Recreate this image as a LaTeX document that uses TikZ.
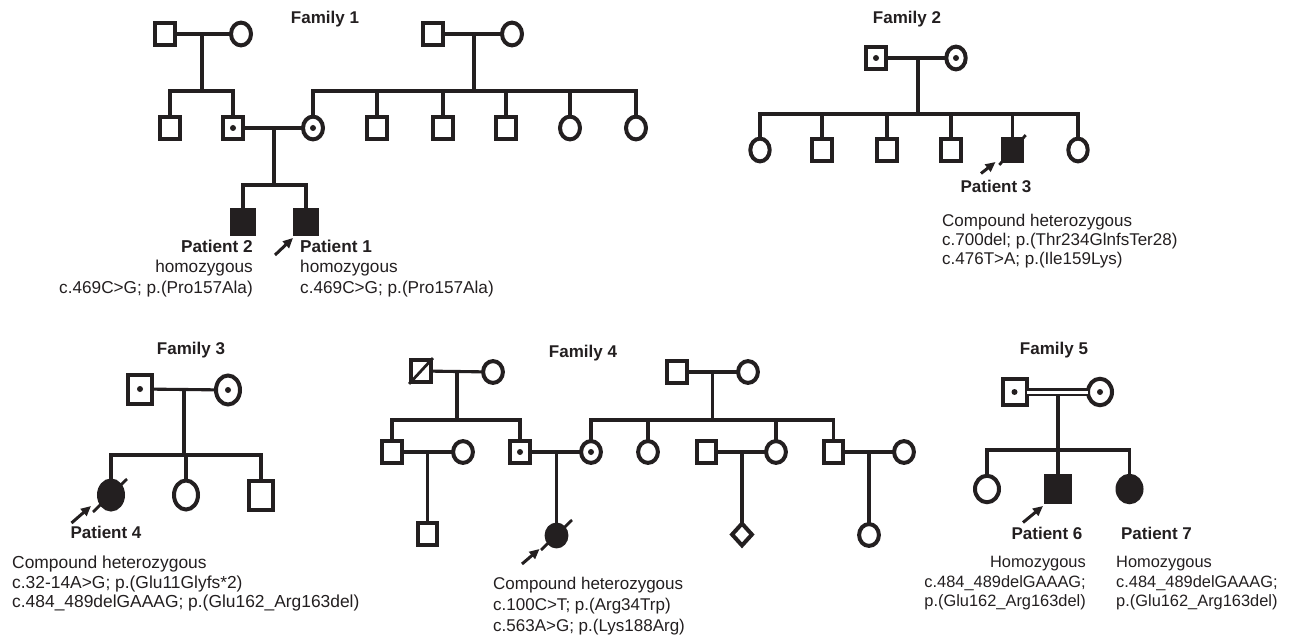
\documentclass[tikz,border=0pt]{standalone}
\usepackage{fontspec}
\setmainfont{Liberation Sans}
\usetikzlibrary{shapes.geometric,arrows.meta,calc}
\definecolor{ink}{HTML}{231F20}
\begin{document}
\begin{tikzpicture}[x=1pt,y=-1pt]
\tikzset{
  ped/.style={draw=ink, line width=4pt, inner sep=0pt, outer sep=0pt, fill=white},
  male/.style={ped, rectangle},
  female/.style={ped, ellipse},
  nonsex/.style={ped, diamond, aspect=1},
  aff/.style={fill=ink},
  carrier/.style={path picture={\fill[ink] (path picture bounding box.center) circle (3pt);}},
  fa/.style={minimum width=20pt, minimum height=22.8pt},
  fb/.style={minimum width=21.4pt, minimum height=24.4pt},
  fc/.style={minimum width=19.4pt, minimum height=22.8pt},
  fd/.style={minimum width=24pt, minimum height=29pt},
  fe/.style={minimum width=19.8pt, minimum height=21.8pt},
  ff/.style={minimum width=24pt, minimum height=26.5pt},
  link/.style={draw=ink, line width=3.1pt},
  pointer/.style={draw=ink, line width=3pt, -{Triangle[length=10pt,width=9pt]}},
  slash/.style={draw=ink, line width=2.8pt},
  ttl/.style={text=ink, inner sep=0pt, anchor=base, font=\bfseries\fontsize{17}{20}\selectfont},
  pat/.style={text=ink, inner sep=0pt, anchor=base, font=\bfseries\fontsize{17}{20}\selectfont},
  txt/.style={text=ink, inner sep=0pt}
}
\fill[white] (0,0) rectangle (1298,636);
\useasboundingbox (0,0) rectangle (1298,636);

% ================= Family 1 =================
\node[ttl] (t1) at (325,24) {Family 1};
\node[male,fa] (a1) at (164.5,34) {};
\node[female,fa] (a2) at (241,34) {};
\coordinate (a12) at (202,34);
\coordinate (s1) at (202,91);
\draw[link] (a1) -- (a2);
\draw[link] (a12) -- (s1);

\node[male,fa] (c1) at (433,34) {};
\node[female,fa] (c2) at (512,34) {};
\coordinate (c12) at (474,34);
\coordinate (s2) at (474,91);
\draw[link] (c1) -- (c2);
\draw[link] (c12) -- (s2);

\node[male,fa] (b1) at (170,128) {};
\node[male,fa,carrier] (b2) at (233,128) {};
\node[female,fa,carrier] (b3) at (313,128) {};
\node[male,fa] (b4) at (377,128) {};
\node[male,fa] (b5) at (443,128) {};
\node[male,fa] (b6) at (506,128) {};
\node[female,fa] (b7) at (570,128) {};
\node[female,fa] (b8) at (636,128) {};
\draw[link] (b1) |- (s1) -| (b2);
\draw[link] (b3) |- (s2) -| (b8);
\draw[link] (b4) -- (b4 |- s2);
\draw[link] (b5) -- (b5 |- s2);
\draw[link] (b6) -- (b6 |- s2);
\draw[link] (b7) -- (b7 |- s2);
\draw[link] (b2) -- (b3);
\coordinate (m1) at (274,128);
\coordinate (s3) at (274,185);
\draw[link] (m1) -- (s3);
\node[male,fb,aff] (p2) at (243,222) {};
\node[male,fb,aff] (p1) at (306,222) {};
\draw[link] (p2) |- (s3) -| (p1);
\coordinate (ar1t) at (275,255);
\coordinate (ar1h) at (293,238);
\draw[pointer] (ar1t) -- (ar1h);
\node[txt, anchor=north east, align=right, font=\fontsize{17.2}{20.5}\selectfont] (d2) at (253,239.5)
  {\textbf{Patient 2}\\homozygous\\c.469C>G; p.(Pro157Ala)};
\node[txt, anchor=north west, align=left, font=\fontsize{17.2}{20.5}\selectfont] (d1) at (300,239.5)
  {\textbf{Patient 1}\\homozygous\\c.469C>G; p.(Pro157Ala)};

% ================= Family 2 =================
\node[ttl] (t2) at (907,24) {Family 2};
\node[male,fc,carrier] (e1) at (876,58) {};
\node[female,fc,carrier] (e2) at (956,58) {};
\draw[link] (e1) -- (e2);
\coordinate (m2) at (918,58);
\coordinate (s4) at (918,114);
\draw[link] (m2) -- (s4);
\node[female,fc] (g1) at (760,150) {};
\node[male,fc] (g2) at (822,150) {};
\node[male,fc] (g3) at (887,150) {};
\node[male,fc] (g4) at (951,150) {};
\node[male,fc,aff] (p3) at (1012.5,150) {};
\node[female,fc] (g6) at (1078,150) {};
\draw[link] (g1) |- (s4) -| (g6);
\draw[link] (g2) -- (g2 |- s4);
\draw[link] (g3) -- (g3 |- s4);
\draw[link] (g4) -- (g4 |- s4);
\draw[link] (p3) -- (p3 |- s4);
\draw[slash] ([shift={(-3.5pt,-3.5pt)}]p3.south west) -- ([shift={(3.5pt,3.5pt)}]p3.north east);
\coordinate (ar3t) at (981,173.5);
\coordinate (ar3h) at (995.5,162);
\draw[pointer] (ar3t) -- (ar3h);
\node[pat] (n3) at (996,193) {Patient 3};
\node[txt, anchor=north west, align=left, font=\fontsize{17}{19}\selectfont] (d3) at (942,213.6)
  {Compound heterozygous\\c.700del; p.(Thr234GlnfsTer28)\\c.476T>A; p.(Ile159Lys)};

% ================= Family 3 =================
\node[ttl] (t3) at (191,354) {Family 3};
\node[male,fd,carrier] (h1) at (140,389) {};
\node[female,fd,carrier] (h2) at (228,390) {};
\draw[link] (h1) -- (h2);
\coordinate (m3) at (184,389);
\coordinate (s5) at (184,455);
\draw[link] (m3) -- (s5);
\node[female,fd,aff] (p4) at (111,495) {};
\node[female,fd] (j2) at (186,495) {};
\node[male,fd] (j3) at (261,495) {};
\draw[link] (p4) |- (s5) -| (j3);
\draw[link] (j2) -- (j2 |- s5);
\draw[slash] ($(p4.center)+(-18pt,-17pt)$) -- ($(p4.center)+(16pt,16pt)$);
\coordinate (ar4t) at (71.5,523);
\coordinate (ar4h) at (91,506);
\draw[pointer] (ar4t) -- (ar4h);
\node[pat] (n4) at (106,538.5) {Patient 4};
\node[txt, anchor=north west, align=left, font=\fontsize{17.4}{19.5}\selectfont] (d4) at (12,555.7)
  {Compound heterozygous\\c.32-14A>G; p.(Glu11Glyfs*2)\\c.484\_489delGAAAG; p.(Glu162\_Arg163del)};

% ================= Family 4 =================
\node[ttl] (t4) at (583,357) {Family 4};
\node[male,fe] (k1) at (421,371) {};
\node[female,fe] (k2) at (493,372) {};
\draw[link] (k1) -- (k2);
\draw[slash] ([shift={(-2pt,-2pt)}]k1.south west) -- ([shift={(2pt,2pt)}]k1.north east);
\coordinate (m4) at (457,372);
\coordinate (s6) at (457,420);
\draw[link] (m4) -- (s6);
\node[male,fe] (l1) at (392,452) {};
\node[male,fe,carrier] (l2) at (520,452) {};
\draw[link] (l1) |- (s6) -| (l2);
\node[female,fe] (l1w) at (463,452) {};
\draw[link] (l1) -- (l1w);
\coordinate (m5) at (427.5,452);
\node[male,fe] (o1) at (427.5,534) {};
\draw[link] (m5) -- (o1);

\node[male,fe] (k3) at (677,372) {};
\node[female,fe] (k4) at (748,372) {};
\draw[link] (k3) -- (k4);
\coordinate (m7) at (712.5,372);
\coordinate (s7) at (712.5,420);
\draw[link] (m7) -- (s7);
\node[female,fe,carrier] (l3) at (591,452) {};
\node[female,fe] (l4) at (648,452) {};
\node[female,fe] (l5) at (776,452) {};
\node[male,fe] (l6) at (833.5,452) {};
\draw[link] (l3) |- (s7) -| (l6);
\draw[link] (l4) -- (l4 |- s7);
\draw[link] (l5) -- (l5 |- s7);
\draw[link] (l2) -- (l3);
\coordinate (m6) at (556.5,452);
\node[female,fe,aff] (p5) at (556.5,535.5) {};
\draw[link] (m6) -- (p5);
\draw[slash] ($(p5.center)+(-15.5pt,-14.5pt)$) -- ($(p5.center)+(15.5pt,15.5pt)$);
\node[male,fe] (l5h) at (706.5,452) {};
\draw[link] (l5h) -- (l5);
\coordinate (m8) at (742,452);
\node[nonsex,minimum width=19.8pt,minimum height=21.8pt] (o2) at (742,534.5) {};
\draw[link] (m8) -- (o2);
\node[female,fe] (l6w) at (904,452) {};
\draw[link] (l6) -- (l6w);
\coordinate (m9) at (869,452);
\node[female,fe] (o3) at (869,535) {};
\draw[link] (m9) -- (o3);
\coordinate (ar5t) at (522,564);
\coordinate (ar5h) at (539.5,549);
\draw[pointer] (ar5t) -- (ar5h);
\node[txt, anchor=north west, align=left, font=\fontsize{17}{21}\selectfont] (d5) at (493,577)
  {Compound heterozygous\\c.100C>T; p.(Arg34Trp)\\c.563A>G; p.(Lys188Arg)};

% ================= Family 5 =================
\node[ttl] (t5) at (1054,354) {Family 5};
\node[male,ff,carrier] (q1) at (1014.5,392) {};
\node[female,ff,carrier] (q2) at (1100,392) {};
\draw[draw=ink, line width=2.8pt, double=white, double distance=3pt] (q1) -- (q2);
\coordinate (m10) at (1058,394.5);
\coordinate (s8) at (1058,450);
\draw[link] (m10) -- (s8);
\node[female,ff] (r1) at (987,489) {};
\node[male,ff,aff] (p6) at (1058,489) {};
\node[female,ff,aff] (p7) at (1129.5,489) {};
\draw[link] (r1) |- (s8) -| (p7);
\draw[link] (p6) -- (s8);
\coordinate (ar6t) at (1023,522.5);
\coordinate (ar6h) at (1043,506);
\draw[pointer] (ar6t) -- (ar6h);
\node[pat] (n6) at (1047,539) {Patient 6};
\node[pat] (n7) at (1156.5,539) {Patient 7};
\node[txt, anchor=north east, align=right, font=\fontsize{16.4}{19.3}\selectfont] (d6) at (1086,556.5)
  {Homozygous\\c.484\_489delGAAAG;\\p.(Glu162\_Arg163del)};
\node[txt, anchor=north west, align=left, font=\fontsize{16.4}{19.3}\selectfont] (d7) at (1116,556.5)
  {Homozygous\\c.484\_489delGAAAG;\\p.(Glu162\_Arg163del)};
\end{tikzpicture}
\end{document}
